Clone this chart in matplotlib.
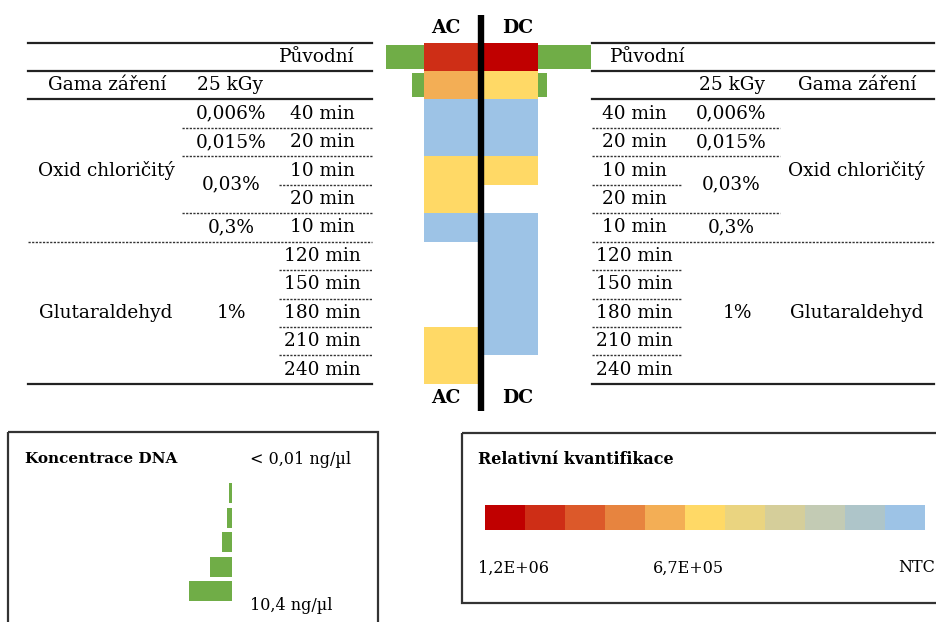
import matplotlib
matplotlib.use("Agg")
import matplotlib.pyplot as plt
from matplotlib.patches import Rectangle
import numpy as np

# ---------------- data ----------------
# relative quantification colour scale (high -> NTC)
scale_colors = ["#C00000", "#CE2E16", "#DC592A", "#E7843F", "#F3AE55", "#FFD966",
                "#EAD480", "#D5CE9A", "#C3CBB4", "#AEC5C9", "#9DC3E6"]
scale_labels = ["1,2E+06", "6,7E+05", "NTC"]

# heat-map level per row (index into scale_colors, None = no signal)
ac_levels = [1, 4, 10, 10, 5, 5, 10, None, None, None, 5, 5]
dc_levels = [0, 5, 10, 10, 5, None, 10, 10, 10, 10, 10, None]

# DNA concentration (ng/µl) for rows that have it
dna_ac = [9.2, 2.9]
dna_dc = [12.8, 2.2]
legend_dna = [0.65, 1.3, 2.5, 5.3, 10.4]
legend_dna_labels = ["< 0,01 ng/\u00b5l", "10,4 ng/\u00b5l"]

minutes = ["40 min", "20 min", "10 min", "20 min", "10 min",
           "120 min", "150 min", "180 min", "210 min", "240 min"]
conc_labels = ["0,006%", "0,015%", "0,03%", "0,3%", "1%"]

# ---------------- layout ----------------
W, H = 936, 622
fig = plt.figure(figsize=(W / 100, H / 100), dpi=100)
ax = fig.add_axes([0, 0, 1, 1])
ax.set_xlim(0, W)
ax.set_ylim(H, 0)
ax.axis("off")

FONT = "DejaVu Serif"
FS = 13.3
FS_LEG = 11.5
plt.rcParams["font.family"] = FONT

top = 42.5
rh = 28.45
n_rows = 12
yc = top + (np.arange(n_rows) + 0.5) * rh

ac_left, dc_left, cw = 424, 484, 54
px_per_unit = 4.13


def cell_colors(levels):
    ys, cs = [], []
    for y, lv in zip(yc, levels):
        if lv is not None:
            ys.append(y)
            cs.append(scale_colors[lv])
    return ys, cs


ys, cs = cell_colors(ac_levels)
ax.barh(ys, cw, left=ac_left, height=rh, color=cs, linewidth=0)
ys, cs = cell_colors(dc_levels)
ax.barh(ys, cw, left=dc_left, height=rh, color=cs, linewidth=0)

# DNA bars (left grows leftwards from AC, right grows rightwards from DC)
green = "#70AD47"
ax.barh(yc[:len(dna_ac)], -np.array(dna_ac) * px_per_unit, left=ac_left,
        height=24, color=green, linewidth=0)
ax.barh(yc[:len(dna_dc)], np.array(dna_dc) * px_per_unit, left=dc_left + cw,
        height=24, color=green, linewidth=0)

# central divider
ax.plot([481, 481], [15, 411], color="black", lw=4.6, solid_capstyle="butt")
for y in (28, 398):
    ax.text(446, y, "AC", ha="center", va="center", fontsize=13.5,
            fontweight="bold", family=FONT)
    ax.text(518, y, "DC", ha="center", va="center", fontsize=13.5,
            fontweight="bold", family=FONT)

# ---------------- table rules ----------------
def rule(x0, x1, y, dotted=False):
    if dotted:
        ax.plot([x0, x1], [y, y], color="#333333", lw=1.0, ls=(0, (1.6, 1.0)))
    else:
        ax.plot([x0, x1], [y, y], color="#222222", lw=1.6)


edges = top + np.arange(n_rows + 1) * rh
L0, L1 = 28, 372
R0, R1 = 592, 934
for y in (edges[0], edges[1], edges[2], edges[12]):
    rule(L0, L1, y)
    rule(R0, R1, y)
# dotted separators
for k in (3, 4, 6):
    rule(182, L1, edges[k], True)
    rule(R0, 780, edges[k], True)
rule(279, L1, edges[5], True)
rule(R0, 682, edges[5], True)
rule(L0, L1, edges[7], True)
rule(R0, R1, edges[7], True)
for k in (8, 9, 10, 11):
    rule(279, L1, edges[k], True)
    rule(R0, 682, edges[k], True)

# ---------------- table text ----------------
def t(x, y, s, ha="center", **kw):
    ax.text(x, y, s, ha=ha, va="center", fontsize=FS, family=FONT, **kw)


# left side
t(354, yc[0], "P\u016fvodn\u00ed", ha="right")
t(107, yc[1], "Gama z\u00e1\u0159en\u00ed")
t(230, yc[1], "25 kGy")
t(106, (edges[2] + edges[7]) / 2, "Oxid chlori\u010dit\u00fd")
t(106, (edges[7] + edges[12]) / 2, "Glutaraldehyd")
t(231, yc[2], conc_labels[0])
t(231, yc[3], conc_labels[1])
t(231, (edges[4] + edges[6]) / 2, conc_labels[2])
t(231, yc[6], conc_labels[3])
t(231, (edges[7] + edges[12]) / 2, conc_labels[4])
for i, m in enumerate(minutes):
    t(322, yc[i + 2], m)

# right side
t(610, yc[0], "P\u016fvodn\u00ed", ha="left")
t(732, yc[1], "25 kGy")
t(857, yc[1], "Gama z\u00e1\u0159en\u00ed")
t(856, (edges[2] + edges[7]) / 2, "Oxid chlori\u010dit\u00fd")
t(857, (edges[7] + edges[12]) / 2, "Glutaraldehyd")
t(731, yc[2], conc_labels[0])
t(731, yc[3], conc_labels[1])
t(731, (edges[4] + edges[6]) / 2, conc_labels[2])
t(731, yc[6], conc_labels[3])
t(737, (edges[7] + edges[12]) / 2, conc_labels[4])
for i, m in enumerate(minutes):
    t(634, yc[i + 2], m)

# ---------------- legend: DNA concentration ----------------
box_col = "#333333"
ax.add_patch(Rectangle((8, 432), 370, 220, fill=False, ec=box_col, lw=1.6,
                       clip_on=True))
ax.text(25, 459, "Koncentrace DNA", ha="left", va="center", fontsize=11,
        fontweight="bold", family=FONT)
ax.text(250, 459, legend_dna_labels[0], ha="left", va="center", fontsize=FS_LEG,
        family=FONT)
ax.text(250, 606, legend_dna_labels[1], ha="left", va="center", fontsize=FS_LEG,
        family=FONT)
leg_y = 493 + np.arange(len(legend_dna)) * 24.5
ax.barh(leg_y, -np.array(legend_dna) * px_per_unit, left=232, height=20,
        color=green, linewidth=0)

# ---------------- legend: relative quantification ----------------
ax.add_patch(Rectangle((462, 433), 520, 170, fill=False, ec=box_col, lw=1.6,
                       clip_on=True))
ax.text(478, 459, "Relativn\u00ed kvantifikace", ha="left", va="center",
        fontsize=11.5, fontweight="bold", family=FONT)
n_sc = len(scale_colors)
ax.bar(485 + 40 * np.arange(n_sc), 25, width=40, bottom=505, align="edge",
       color=scale_colors, linewidth=0)
ax.text(478, 568, scale_labels[0], ha="left", va="center", fontsize=FS_LEG,
        family=FONT)
ax.text(653, 568, scale_labels[1], ha="left", va="center", fontsize=FS_LEG,
        family=FONT)
ax.text(935, 568, scale_labels[2], ha="right", va="center", fontsize=FS_LEG,
        family=FONT)

fig.savefig("out.png", dpi=100)
